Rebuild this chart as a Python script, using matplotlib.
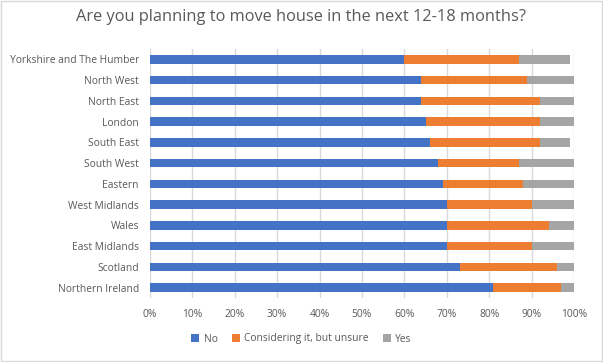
import matplotlib
matplotlib.use("Agg")
import matplotlib.pyplot as plt
import numpy as np

regions = ["Yorkshire and The Humber", "North West", "North East", "London", "South East",
           "South West", "Eastern", "West Midlands", "Wales", "East Midlands", "Scotland",
           "Northern Ireland"]
no_vals = [60, 64, 64, 65, 66, 68, 69, 70, 70, 70, 73, 81]
considering_vals = [27, 25, 28, 27, 26, 19, 19, 20, 24, 20, 23, 16]
yes_vals = [12, 11, 8, 8, 7, 13, 12, 10, 6, 10, 4, 3]
series_names = ["No", "Considering it, but unsure", "Yes"]
xticks = [0, 10, 20, 30, 40, 50, 60, 70, 80, 90, 100]

plt.rcParams['font.family'] = ['Open Sans', 'DejaVu Sans']
txt = '#595959'

fig = plt.figure(figsize=(6.03, 3.62), dpi=100)
ax = fig.add_axes([150/603, 1-298/362, (574-150)/603, (298-49)/362])

y = np.arange(len(regions))[::-1]
h = 0.4
no = np.array(no_vals); co = np.array(considering_vals); ye = np.array(yes_vals)
ax.barh(y, no, height=h, color='#4472C4', label=series_names[0], zorder=3)
ax.barh(y, co, left=no, height=h, color='#ED7D31', label=series_names[1], zorder=3)
ax.barh(y, ye, left=no+co, height=h, color='#A5A5A5', label=series_names[2], zorder=3)

ax.set_xlim(0, 100)
ax.set_ylim(-0.5, len(regions)-0.5)
ax.set_xticks(xticks)
ax.set_xticklabels([f"{t}%" for t in xticks])
ax.set_yticks(y)
ax.set_yticklabels(regions)
ax.tick_params(axis='both', length=0, labelsize=7.4, labelcolor=txt)
ax.tick_params(axis='x', pad=8)
ax.tick_params(axis='y', pad=8)
ax.grid(axis='x', color='#D9D9D9', linewidth=1, zorder=0)
for s in ax.spines.values():
    s.set_visible(False)

fig.suptitle("Are you planning to move house in the next 12-18 months?", x=0.5, y=0.975,
             fontsize=11.8, color=txt, va='top')
fig.legend(loc='center', bbox_to_anchor=(0.5, 1-339/362), ncol=3, frameon=False,
           fontsize=7.4, labelcolor=txt, handlelength=0.8, handleheight=0.8,
           handletextpad=0.4, columnspacing=1.4)

fig.patches.append(plt.Rectangle((0.001, 0.002), 0.997, 0.995, transform=fig.transFigure,
                                 fill=False, edgecolor='#D9D9D9', linewidth=1))
fig.savefig("out.png", dpi=100, facecolor='white')
